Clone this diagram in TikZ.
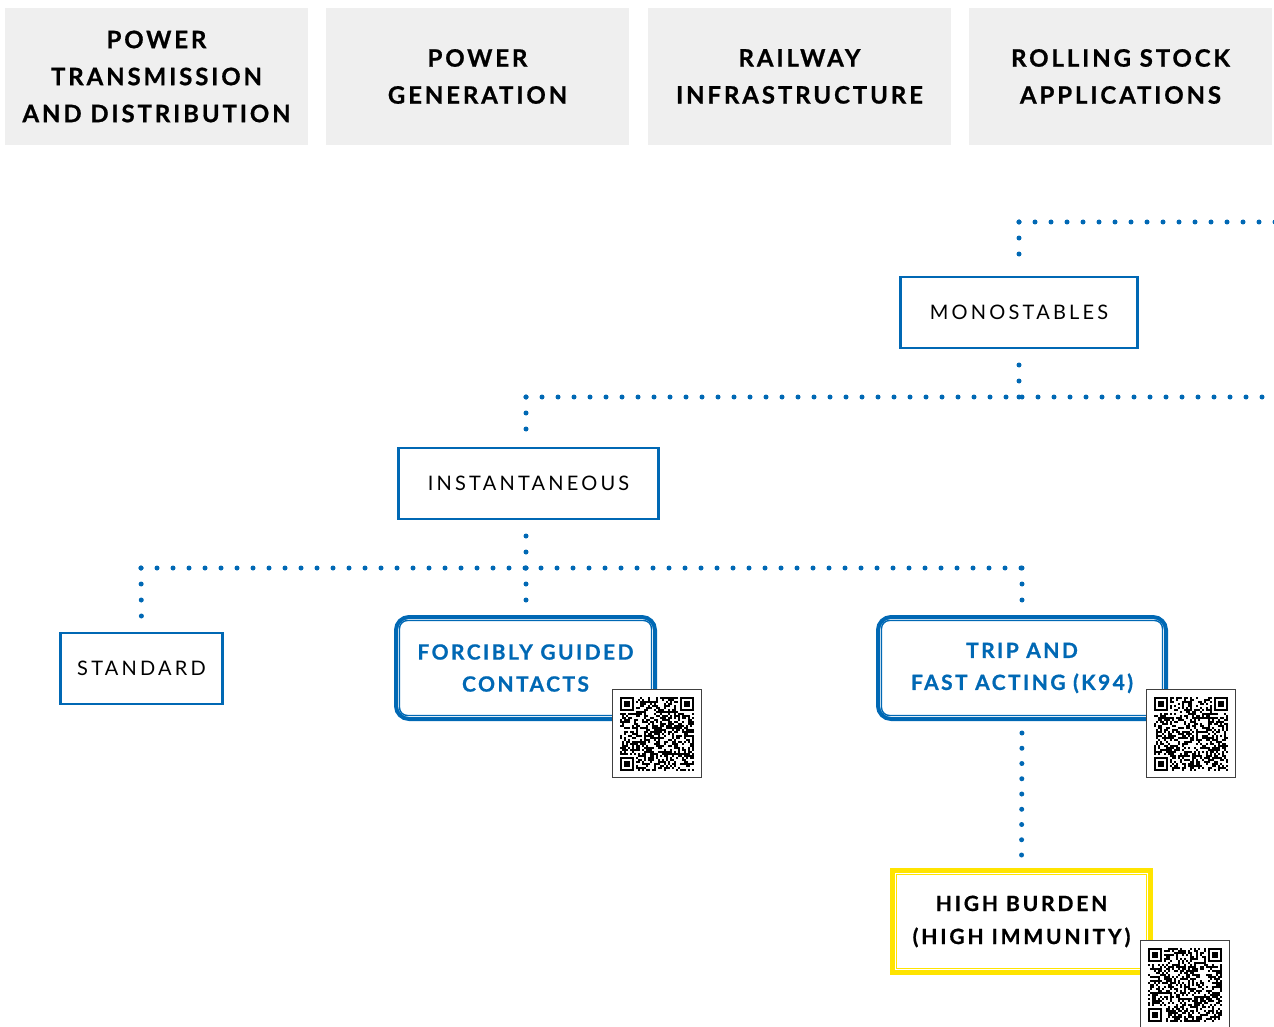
\documentclass[tikz,border=0pt]{standalone}
\usepackage{fontspec}
\setmainfont{Lato}
\newfontfamily\headsans{Lato}[LetterSpace=12, BoldFeatures={FakeBold=0.8}]
\newfontfamily\widesans{Lato}[LetterSpace=16]
\newfontfamily\seriessans{Lato}[LetterSpace=11.5, BoldFeatures={FakeBold=0.8}]
\newfontfamily\burdensans{Lato}[LetterSpace=13.5, BoldFeatures={FakeBold=0.8}]
\definecolor{relayblue}{RGB}{0,104,180}
\definecolor{headgray}{RGB}{239,239,239}
\definecolor{burdenyellow}{RGB}{255,228,0}

% QR patch: name, left, top, seed
\newcommand{\qrpatch}[4]{%
  \node[qrframe, anchor=north west] (#1) at (#2,#3) {};
  \pgfmathsetseed{#4}
  \begin{scope}[shift={(#2+7.5,#3+7.5)}]
    \foreach \i in {0,...,36}{
      \foreach \j in {0,...,36}{
        \pgfmathtruncatemacro\qrskip{(\i<8 && \j<8) || (\i>28 && \j<8) || (\i<8 && \j>28)}
        \pgfmathtruncatemacro\qrdark{rnd<0.5}
        \ifnum\qrskip=0 \ifnum\qrdark=1 \fill (\i*2,\j*2) rectangle ++(2.05,2.05); \fi\fi
      }
    }
    \foreach \x/\y in {0/0,30/0,0/30}{
      \fill (\x*2,\y*2) rectangle ++(14,14);
      \fill[white] (\x*2+2,\y*2+2) rectangle ++(10,10);
      \fill (\x*2+4,\y*2+4) rectangle ++(6,6);
    }
  \end{scope}}

\tikzset{
  header/.style={fill=headgray, minimum width=303pt, minimum height=137pt, inner sep=0pt,
    align=center, font=\headsans\bfseries\fontsize{24pt}{37pt}\selectfont},
  family/.style={draw=relayblue, line width=2.5pt, fill=white, minimum height=71pt,
    font=\widesans\fontsize{20pt}{24pt}\selectfont},
  series/.style={draw=relayblue, line width=4pt, rounded corners=13pt,
    minimum height=102pt, align=center, text=relayblue,
    font=\seriessans\bfseries\fontsize{21pt}{32pt}\selectfont,
    append after command={\pgfextra{\draw[relayblue, line width=1.4pt, rounded corners=8pt]
      ([shift={(5.5pt,-5.5pt)}]\tikzlastnode.north west) rectangle ([shift={(-5.5pt,5.5pt)}]\tikzlastnode.south east);}}},
  burden/.style={draw=burdenyellow, line width=5pt, minimum width=258pt,
    minimum height=102pt, align=center,
    font=\burdensans\bfseries\fontsize{21pt}{33pt}\selectfont,
    append after command={\pgfextra{\draw[burdenyellow, line width=1.6pt]
      ([shift={(6.5pt,-6.5pt)}]\tikzlastnode.north west) rectangle ([shift={(-6.5pt,6.5pt)}]\tikzlastnode.south east);}}},
  dotline/.style={relayblue, line width=5pt, line cap=round, dash pattern=on 0pt off 16pt},
  qrframe/.style={draw=black!75, line width=1pt, fill=white, minimum width=89pt,
    minimum height=88pt, inner sep=0pt}
}

\begin{document}
\begin{tikzpicture}[x=1pt,y=-1pt]
  \useasboundingbox (0,0) rectangle (1274,1027);

  % sectors
  \node[header] (ptd) at (156.5,76.5) {POWER\\TRANSMISSION\\AND DISTRIBUTION};
  \node[header] (pgen) at (477.5,76.5) {POWER\\GENERATION};
  \node[header] (rail) at (799.5,76.5) {RAILWAY\\INFRASTRUCTURE};
  \node[header] (stock) at (1120.5,76.5) {ROLLING STOCK\\APPLICATIONS};

  % families
  \node[family, minimum width=237pt] (mono) at (1019,312.5) {MONOSTABLES};
  \node[family, minimum width=260pt] (inst) at (528.5,483.5) {INSTANTANEOUS};
  \node[family, minimum width=162pt] (std) at (141.5,668.5) {STANDARD};

  % series
  \node[series, minimum width=259pt] (fgc) at (525.5,668) {FORCIBLY GUIDED\\CONTACTS};
  \node[series, minimum width=288pt] (k94) at (1022,668) {TRIP AND\\FAST ACTING (K94)};
  \node[burden] (hb) at (1021.5,921.5) {HIGH BURDEN\\(HIGH IMMUNITY)};

  \qrpatch{qrfgc}{612}{689}{11}
  \qrpatch{qrk94}{1146}{689}{23}
  \qrpatch{qrhb}{1140}{940}{37}

  % junctions
  \coordinate (topjoin) at (1019,222);
  \coordinate (topend) at (1282,222);
  \coordinate (midjoin) at (1019,397);
  \coordinate (instjoin) at (526,397);
  \coordinate (midend) at (1282,397);
  \coordinate (lowjoin) at (526,568);
  \coordinate (stdjoin) at (141,568);
  \coordinate (k94join) at (1022,568);

  \draw[dotline] (topjoin) -- (topend);
  \draw[dotline, shorten >=11pt] (topjoin) -- (mono.north);
  \draw[dotline, shorten >=11pt] (midjoin) -- (mono.south);
  \draw[dotline] (instjoin) -- (midend);
  \draw[dotline, shorten >=11pt] (instjoin) -- (instjoin |- inst.north);
  \draw[dotline, shorten >=13pt] (lowjoin) -- (lowjoin |- inst.south);
  \draw[dotline] (stdjoin) -- (k94join);
  \draw[dotline, shorten >=12pt] (stdjoin) -- (std.north);
  \draw[dotline, shorten >=11pt] (lowjoin) -- (lowjoin |- fgc.north);
  \draw[dotline, shorten >=11pt] (k94join) -- (k94.north);
  \draw[dotline, dash pattern=on 0pt off 15.25pt, shorten <=12pt, shorten >=13pt] (k94.south) -- (hb.north);
\end{tikzpicture}
\end{document}
